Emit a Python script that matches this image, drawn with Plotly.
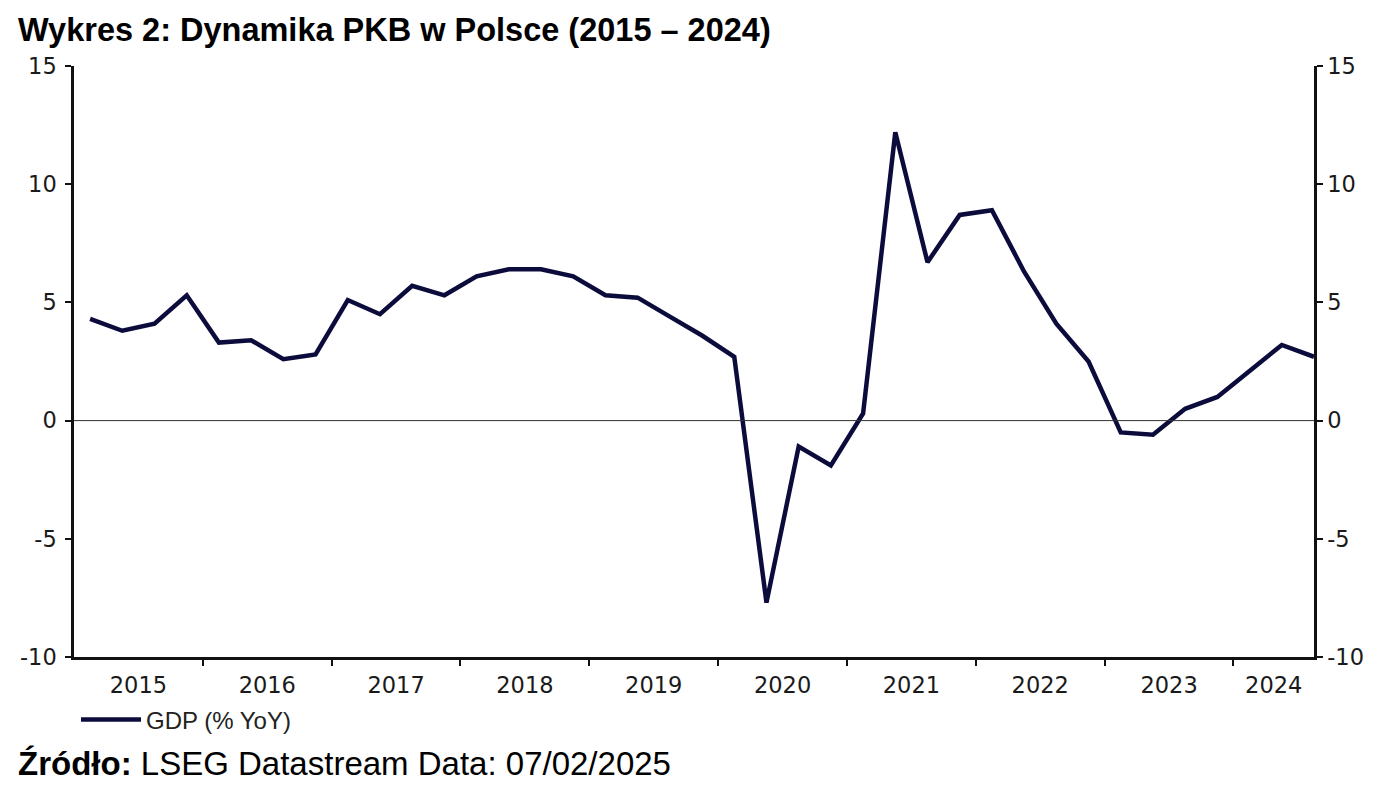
import plotly.graph_objects as go

# Quarterly GDP growth, Poland (% YoY), 2015Q1 - 2024Q3
quarters = [f"{y}Q{q}" for y in range(2015, 2025) for q in range(1, 5)][:39]
gdp_yoy = [4.3, 3.8, 4.1, 5.3,
           3.3, 3.4, 2.6, 2.8,
           5.1, 4.5, 5.7, 5.3,
           6.1, 6.4, 6.4, 6.1,
           5.3, 5.2, 4.4, 3.6,
           2.7, -7.7, -1.1, -1.9,
           0.3, 12.2, 6.7, 8.7,
           8.9, 6.3, 4.1, 2.5,
           -0.5, -0.6, 0.5, 1.0,
           2.1, 3.2, 2.7]
year_labels = ["2015", "2016", "2017", "2018", "2019", "2020", "2021", "2022", "2023", "2024"]
y_ticks = [-10, -5, 0, 5, 10, 15]
y_ticktext = ["-10", "-5", "0", "5", "10", "15"]

# positions: quarter midpoints in fractional years
xpos = [int(q[:4]) + (int(q[-1]) - 0.5) / 4 for q in quarters]
x_end = xpos[-1]
x_range = [2015, x_end]
boundaries = [int(y) for y in year_labels[1:]]
label_pos = []
for y in year_labels:
    a = int(y)
    b = min(a + 1, x_end)
    label_pos.append((a + b) / 2)

LINE = "#0c0c3c"
AX = "#111111"
tickfont = dict(family="DejaVu Sans", size=22.5, color="#1a1a1a")

fig = go.Figure()
fig.add_trace(go.Scatter(x=xpos, y=gdp_yoy, mode="lines", name="GDP (% YoY)",
                         line=dict(color=LINE, width=4.5), xaxis="x", yaxis="y"))
# invisible trace for right axis
fig.add_trace(go.Scatter(x=[xpos[0]], y=[gdp_yoy[0]], mode="lines", showlegend=False,
                         line=dict(width=0), xaxis="x2", yaxis="y2", hoverinfo="skip"))

fig.add_shape(type="line", xref="paper", yref="y", x0=0, x1=1, y0=0, y1=0,
              line=dict(color="#333333", width=1))

fig.update_layout(
    width=1396, height=788,
    margin=dict(l=74, r=82, t=66, b=131, autoexpand=False),
    paper_bgcolor="white", plot_bgcolor="white",
    showlegend=True,
    legend=dict(xref="container", yref="container", x=76/1396, y=1-720/788,
                xanchor="left", yanchor="middle", itemwidth=60,
                font=dict(family="Liberation Sans", size=24, color="#222222"),
                bgcolor="rgba(0,0,0,0)"),
    xaxis=dict(range=x_range, tickvals=boundaries, showticklabels=False,
               ticks="outside", ticklen=6, tickwidth=2, tickcolor=AX,
               showline=True, linewidth=2.5, linecolor=AX, showgrid=False,
               zeroline=False),
    xaxis2=dict(range=x_range, overlaying="x", side="bottom", anchor="y",
                tickvals=label_pos, ticktext=year_labels, ticks="",
                ticklabelstandoff=12,
                tickfont=tickfont, showline=False, showgrid=False, zeroline=False),
    yaxis=dict(range=[-10, 15], tickvals=y_ticks, ticktext=y_ticktext,
               ticks="outside", ticklen=6, ticklabelstandoff=4,
               tickwidth=2, tickcolor=AX, showline=True, linewidth=2.5,
               linecolor=AX, showgrid=False, zeroline=False, tickfont=tickfont),
    yaxis2=dict(range=[-10, 15], tickvals=y_ticks, ticktext=y_ticktext,
                overlaying="y", side="right",
                anchor="x", ticks="outside", ticklen=6, tickwidth=2, tickcolor=AX,
                showline=True, linewidth=2.5, linecolor=AX, showgrid=False,
                zeroline=False, tickfont=tickfont),
)

fig.add_annotation(
    text="<b>Wykres 2: Dynamika PKB w Polsce (2015 – 2024)</b>",
    xref="paper", yref="paper", x=-74/1240, y=1 + (66-30)/591,
    xanchor="left", yanchor="middle", showarrow=False, xshift=16,
    font=dict(family="Liberation Sans", size=32.5, color="#000000"))
fig.add_annotation(
    text="<b>Źródło:</b> LSEG Datastream Data: 07/02/2025",
    xref="paper", yref="paper", x=-74/1240, y=-(763-657)/591,
    xanchor="left", yanchor="middle", showarrow=False, xshift=16,
    font=dict(family="Liberation Sans", size=33, color="#000000"))

fig.write_html("out.html")
